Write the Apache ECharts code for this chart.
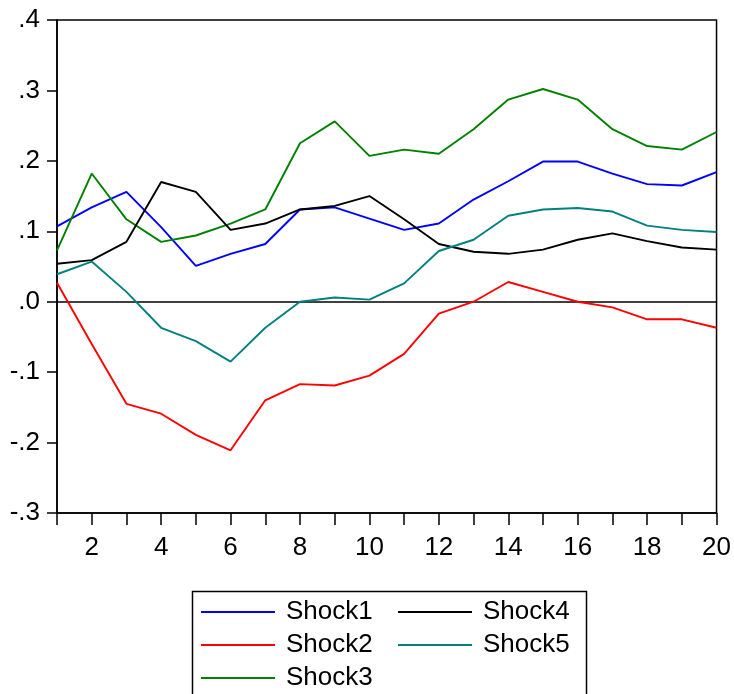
<!DOCTYPE html>
<html>
<head>
<meta charset="utf-8">
<script src="https://cdn.jsdelivr.net/npm/echarts@6/dist/echarts.min.js"></script>
<style>
    html, body { margin: 0; padding: 0; background: #fff; }
    #chart { width: 734px; height: 694px; }
</style>
</head>
<body>
<div id="chart"></div>
<script>
(function () {
    // horizon 1..20
    var periods = [1, 2, 3, 4, 5, 6, 7, 8, 9, 10, 11, 12, 13, 14, 15, 16, 17, 18, 19, 20];

    var shock1 = [0.107, 0.134, 0.156, 0.106, 0.051, 0.068, 0.082, 0.131, 0.134, 0.118,
                  0.102, 0.111, 0.145, 0.171, 0.199, 0.199, 0.182, 0.167, 0.165, 0.184];
    var shock2 = [0.027, -0.060, -0.145, -0.159, -0.189, -0.211, -0.140, -0.117, -0.119, -0.105,
                  -0.074, -0.017, 0.000, 0.028, 0.014, 0.000, -0.008, -0.025, -0.025, -0.037];
    var shock3 = [0.073, 0.182, 0.117, 0.085, 0.094, 0.111, 0.131, 0.225, 0.256, 0.207,
                  0.216, 0.210, 0.245, 0.287, 0.302, 0.287, 0.245, 0.221, 0.216, 0.241];
    var shock4 = [0.054, 0.059, 0.085, 0.170, 0.156, 0.102, 0.111, 0.131, 0.136, 0.150,
                  0.117, 0.082, 0.071, 0.068, 0.074, 0.088, 0.097, 0.086, 0.077, 0.074];
    var shock5 = [0.039, 0.057, 0.014, -0.037, -0.056, -0.085, -0.037, 0.000, 0.006, 0.003,
                  0.026, 0.072, 0.088, 0.122, 0.131, 0.133, 0.128, 0.108, 0.102, 0.099];

    var seriesNames = ['Shock1', 'Shock2', 'Shock3', 'Shock4', 'Shock5'];
    var seriesColors = ['#0000ff', '#ff0000', '#008000', '#000000', '#008080'];
    var seriesValues = [shock1, shock2, shock3, shock4, shock5];

    var font = "'Liberation Sans', Arial, sans-serif";

    var chart = echarts.init(document.getElementById('chart'), null, {renderer: 'canvas'});

    function pairUp(values) {
        return values.map(function (v, i) {
            return [periods[i], v];
        });
    }

    function legendItem(left, names) {
        return {
            orient: 'vertical',
            left: left,
            top: 599,
            padding: 0,
            icon: 'rect',
            itemWidth: 74,
            itemHeight: 2,
            itemGap: 7,
            data: names,
            textStyle: {
                fontFamily: font,
                fontSize: 26,
                color: '#000',
                padding: [0, 0, 0, 6]
            }
        };
    }

    var series = seriesNames.map(function (name, i) {
        return {
            name: name,
            type: 'line',
            symbol: 'none',
            data: pairUp(seriesValues[i]),
            lineStyle: {color: seriesColors[i], width: 1.9},
            itemStyle: {color: seriesColors[i]},
            z: 3
        };
    });

    // zero line
    series[0].markLine = {
        silent: true,
        symbol: 'none',
        label: {show: false},
        lineStyle: {color: '#000', width: 1.5, type: 'solid'},
        data: [{yAxis: 0}],
        z: 2
    };

    var axisText = {fontFamily: font, fontSize: 26, color: '#000'};

    var option = {
        backgroundColor: '#fff',
        animation: false,
        grid: {
            left: 57,
            right: 17,
            top: 20,
            bottom: 181,
            show: true,
            borderColor: '#000',
            borderWidth: 1.5,
            backgroundColor: 'transparent'
        },
        legend: [
            legendItem(201, ['Shock1', 'Shock2', 'Shock3']),
            legendItem(398, ['Shock4', 'Shock5'])
        ],
        xAxis: {
            type: 'value',
            min: 1,
            max: 20,
            interval: 1,
            axisLine: {show: true, onZero: false, lineStyle: {color: '#000', width: 1.5}},
            axisTick: {show: true, inside: false, length: 12, lineStyle: {color: '#000', width: 1.5}},
            splitLine: {show: false},
            axisLabel: Object.assign({
                margin: 22,
                showMinLabel: true,
                showMaxLabel: true,
                formatter: function (v) {
                    return v % 2 === 0 ? String(v) : '';
                }
            }, axisText)
        },
        yAxis: {
            type: 'value',
            min: -0.3,
            max: 0.4,
            interval: 0.1,
            axisLine: {show: true, onZero: false, lineStyle: {color: '#000', width: 1.5}},
            axisTick: {show: true, inside: false, length: 10, lineStyle: {color: '#000', width: 1.5}},
            splitLine: {show: false},
            axisLabel: Object.assign({
                margin: 17,
                formatter: function (v) {
                    var s = (Math.round(v * 10) / 10).toFixed(1);
                    return s.replace(/^(-?)0\./, '$1.');
                }
            }, axisText)
        },
        graphic: [
            {
                type: 'rect',
                left: 190,
                top: 589,
                shape: {width: 394, height: 120},
                style: {fill: 'none', stroke: '#000', lineWidth: 1.5},
                silent: true
            }
        ],
        series: series
    };

    chart.setOption(option);
})();
</script>
</body>
</html>
